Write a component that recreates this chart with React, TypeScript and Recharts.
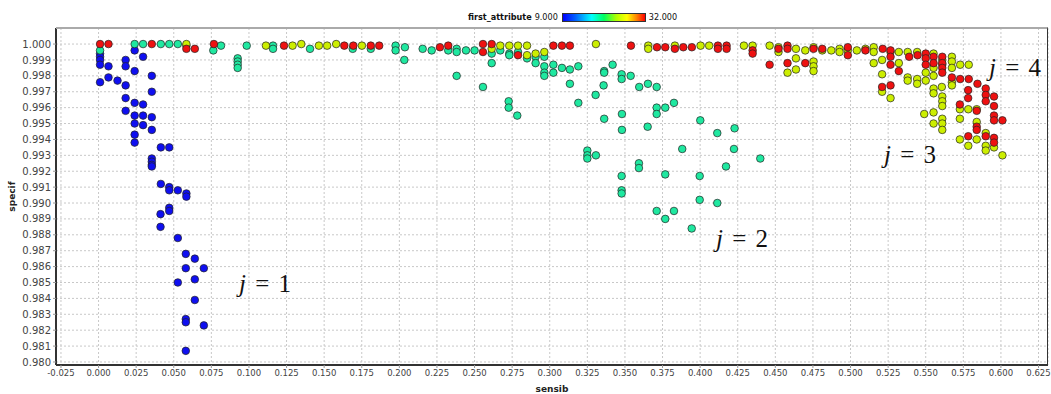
import React from "react";
import { ScatterChart, Scatter, XAxis, YAxis, CartesianGrid, Label } from "recharts";

// sensib / specif pairs, grouped by the colour of first_attribute
const attr9: [number, number][] = [
  [0.001, 0.9994], [0.001, 0.9992], [0.001, 0.999], [0.001, 0.9987], [0.001, 0.9976],
  [0.0066, 0.9986], [0.0066, 0.9979], [0.0126, 0.9977],
  [0.018, 0.999], [0.018, 0.9986], [0.018, 0.9974], [0.018, 0.9966], [0.018, 0.9958],
  [0.024, 0.9996], [0.024, 0.9983], [0.024, 0.9963], [0.024, 0.9955], [0.024, 0.995], [0.024, 0.9943], [0.024, 0.9938],
  [0.0296, 0.9992], [0.0296, 0.9962], [0.0296, 0.9955], [0.0296, 0.9949],
  [0.0354, 0.998], [0.0354, 0.997], [0.0354, 0.9954], [0.0354, 0.9946], [0.0354, 0.9928], [0.0354, 0.9926], [0.0354, 0.9924], [0.0354, 0.9923],
  [0.0414, 0.9935], [0.0414, 0.9912], [0.047, 0.9935], [0.047, 0.991], [0.047, 0.9908],
  [0.0527, 0.9908], [0.0584, 0.9906], [0.0584, 0.9904],
  [0.047, 0.9897], [0.047, 0.9895], [0.0412, 0.9893], [0.0412, 0.9885], [0.0527, 0.9878],
  [0.058, 0.9868], [0.064, 0.9865], [0.058, 0.9859], [0.07, 0.9859], [0.0527, 0.985], [0.064, 0.9852],
  [0.064, 0.9839], [0.058, 0.9827], [0.058, 0.9825], [0.07, 0.9823], [0.058, 0.9807],
];

const attr16: [number, number][] = [
  [0.001, 0.9996], [0.024, 1.0], [0.0296, 1.0], [0.0414, 1.0], [0.047, 1.0], [0.0527, 1.0], [0.0584, 0.9999],
  [0.0763, 0.9996], [0.0814, 0.9999], [0.0925, 0.9991], [0.0925, 0.9989], [0.0925, 0.9987], [0.0925, 0.9985],
  [0.0985, 0.9999], [0.116, 0.9999], [0.116, 0.9997], [0.1406, 0.9997], [0.169, 0.9997], [0.181, 0.9997],
  [0.1975, 0.9999], [0.1975, 0.9996], [0.2037, 0.9998], [0.2033, 0.999], [0.2155, 0.9997], [0.2215, 0.9996],
  [0.2325, 0.9996], [0.2381, 0.9997], [0.2381, 0.9995], [0.2381, 0.998], [0.2443, 0.9996], [0.25, 0.9996],
  [0.2556, 0.9973], [0.2614, 0.9994], [0.2614, 0.9988], [0.2671, 0.9996], [0.2731, 0.9994], [0.2731, 0.9993],
  [0.2727, 0.9964], [0.2727, 0.996], [0.2784, 0.9955], [0.2789, 0.9995], [0.2849, 0.9991], [0.2906, 0.9992],
  [0.2906, 0.9988], [0.2964, 0.9992], [0.2964, 0.9986], [0.2964, 0.9982], [0.2964, 0.998], [0.3024, 0.9987],
  [0.3024, 0.9982], [0.3081, 0.9985], [0.3134, 0.9984], [0.3134, 0.9975], [0.319, 0.9986], [0.319, 0.9963],
  [0.3305, 0.9968], [0.3362, 0.9983], [0.3362, 0.9982], [0.3358, 0.9974], [0.3362, 0.9953], [0.325, 0.9933],
  [0.325, 0.993], [0.325, 0.9928], [0.3307, 0.993], [0.3418, 0.9987], [0.3478, 0.9981], [0.3478, 0.9978],
  [0.3538, 0.998], [0.348, 0.9956], [0.348, 0.9946], [0.3478, 0.9917], [0.3478, 0.9908], [0.3478, 0.9906],
  [0.3595, 0.9973], [0.3653, 0.9975], [0.3711, 0.9973], [0.3711, 0.996], [0.3711, 0.9956], [0.3768, 0.996],
  [0.3826, 0.9963], [0.3651, 0.9948], [0.3593, 0.9925], [0.3593, 0.9922], [0.3768, 0.9918], [0.3881, 0.9934],
  [0.4001, 0.9952], [0.4114, 0.9944], [0.4229, 0.9947], [0.4225, 0.9934], [0.44, 0.9928], [0.4172, 0.9923],
  [0.3997, 0.9917], [0.3997, 0.9902], [0.4114, 0.99], [0.3711, 0.9895], [0.3826, 0.9895], [0.3768, 0.989],
  [0.3944, 0.9884],
];

const attr25: [number, number][] = [
  [0.0584, 1.0], [0.1113, 0.9999], [0.129, 0.9999], [0.1348, 1.0], [0.1465, 0.9999], [0.152, 0.9999],
  [0.158, 1.0], [0.1751, 0.9999], [0.2614, 0.9997], [0.2671, 0.9999], [0.2731, 0.9999], [0.2789, 0.9999],
  [0.2849, 0.9999], [0.2849, 0.9993], [0.2906, 0.9994], [0.2964, 0.9995], [0.3307, 1.0], [0.3655, 0.9999],
  [0.3655, 0.9997], [0.3832, 0.9999], [0.4003, 0.9999], [0.406, 0.9999], [0.4291, 0.9999], [0.4349, 0.9999],
  [0.4462, 0.9999], [0.4521, 0.9998], [0.4521, 0.9995], [0.4581, 0.9982], [0.4637, 0.9997], [0.4637, 0.9991],
  [0.4637, 0.9984], [0.4699, 0.9996], [0.4754, 0.9998], [0.4754, 0.9989], [0.4754, 0.9986], [0.4754, 0.9983],
  [0.4812, 0.9996], [0.4872, 0.9996], [0.4927, 0.9997], [0.4927, 0.9995], [0.4982, 0.9996], [0.5042, 0.9996],
  [0.5099, 0.9997], [0.5154, 0.9998], [0.5154, 0.9995], [0.5154, 0.9988], [0.521, 0.999], [0.521, 0.9981],
  [0.521, 0.997], [0.5266, 0.9995], [0.5266, 0.9966], [0.5321, 0.9995], [0.5321, 0.9988], [0.538, 0.9995],
  [0.538, 0.9979], [0.538, 0.9977], [0.5443, 0.9995], [0.5443, 0.9978], [0.5443, 0.9975], [0.55, 0.9982],
  [0.55, 0.9977], [0.549, 0.9956], [0.5552, 0.9994], [0.5552, 0.9985], [0.5552, 0.998], [0.5552, 0.9972],
  [0.5552, 0.9969], [0.5552, 0.9957], [0.5552, 0.995], [0.561, 0.999], [0.561, 0.9987], [0.561, 0.9967],
  [0.561, 0.9964], [0.561, 0.9961], [0.561, 0.9953], [0.561, 0.995], [0.561, 0.9946], [0.5607, 0.9973],
  [0.5674, 0.9992], [0.5674, 0.9989], [0.5674, 0.9985], [0.5674, 0.9976], [0.5674, 0.9974], [0.5729, 0.9987],
  [0.5786, 0.9987], [0.5727, 0.9959], [0.5727, 0.9953], [0.5727, 0.994], [0.5783, 0.9959], [0.5783, 0.9936],
  [0.5839, 0.9959], [0.5839, 0.9951], [0.5839, 0.994], [0.5899, 0.9944], [0.5899, 0.9936], [0.5899, 0.9933],
  [0.5954, 0.9935], [0.601, 0.993],
];

const attr32: [number, number][] = [
  [0.001, 1.0], [0.0066, 1.0], [0.0354, 1.0], [0.0584, 0.9997], [0.064, 0.9997], [0.0767, 1.0],
  [0.1233, 0.9999], [0.1634, 0.9999], [0.1694, 0.9999], [0.181, 0.9999], [0.1866, 0.9999], [0.227, 0.9998],
  [0.2325, 0.9999], [0.2556, 1.0], [0.2556, 0.9995], [0.2614, 1.0], [0.2789, 0.9993], [0.3024, 0.9999],
  [0.3081, 0.9999], [0.3134, 0.9999], [0.354, 0.9999], [0.3713, 0.9998], [0.3768, 0.9998], [0.3832, 0.9997],
  [0.3888, 0.9998], [0.3945, 0.9998], [0.4118, 0.9999], [0.4118, 0.9997], [0.4176, 0.9999], [0.4176, 0.9997],
  [0.4349, 0.9996], [0.4349, 0.9994], [0.4462, 0.9987], [0.4521, 0.9997], [0.4581, 0.9999], [0.4581, 0.9997],
  [0.4581, 0.9988], [0.4699, 0.9988], [0.4754, 0.9997], [0.4812, 0.9997], [0.4982, 0.9998], [0.4982, 0.9993],
  [0.5099, 0.9996], [0.5214, 0.9997], [0.521, 0.9973], [0.5266, 0.9996], [0.5266, 0.9992], [0.5266, 0.9987],
  [0.5266, 0.9974], [0.5321, 0.9983], [0.539, 0.9992], [0.5446, 0.9993], [0.55, 0.9994], [0.55, 0.9991],
  [0.55, 0.9987], [0.5552, 0.9992], [0.5552, 0.9988], [0.561, 0.9992], [0.561, 0.9988], [0.561, 0.9985],
  [0.561, 0.9982], [0.5674, 0.9979], [0.5729, 0.9978], [0.5786, 0.9978], [0.5844, 0.9975], [0.5782, 0.9971],
  [0.5782, 0.9966], [0.5899, 0.9972], [0.5899, 0.9968], [0.5899, 0.9964], [0.5954, 0.9967], [0.5954, 0.9961],
  [0.5954, 0.9955], [0.5954, 0.9952], [0.601, 0.9952], [0.5727, 0.9962], [0.5783, 0.9942], [0.5839, 0.9958],
  [0.5839, 0.9948], [0.5839, 0.9946], [0.5899, 0.9942], [0.5954, 0.9941], [0.5954, 0.9938],
];

const xTicks = [
  -0.025, 0, 0.025, 0.05, 0.075, 0.1, 0.125, 0.15, 0.175, 0.2, 0.225, 0.25, 0.275, 0.3,
  0.325, 0.35, 0.375, 0.4, 0.425, 0.45, 0.475, 0.5, 0.525, 0.55, 0.575, 0.6, 0.625,
];
const yTicks = [
  0.98, 0.981, 0.982, 0.983, 0.984, 0.985, 0.986, 0.987, 0.988, 0.989, 0.99,
  0.991, 0.992, 0.993, 0.994, 0.995, 0.996, 0.997, 0.998, 0.999, 1.0,
];

const series = [
  { name: "9", pts: attr9, color: "#0f0ff0" },
  { name: "16", pts: attr16, color: "#1fe8a0" },
  { name: "25", pts: attr25, color: "#ccee00" },
  { name: "32", pts: attr32, color: "#ee1111" },
];

const toRows = (pts: [number, number][]) => pts.map(([x, y]) => ({ x, y }));

const dot = (color: string) => (p: any) => (
  <circle cx={p.cx} cy={p.cy} r={3.8} fill={color} stroke="#222" strokeWidth={0.7} />
);

const yTickStyle = { fontSize: 10, fill: "#444", fontFamily: "DejaVu Sans" };
const xTickStyle = { fontSize: 8.5, fill: "#444", fontFamily: "DejaVu Sans" };

const jLabels = [
  { t: "1", left: 239, top: 271 },
  { t: "2", left: 716, top: 226 },
  { t: "3", left: 884, top: 142 },
  { t: "4", left: 989, top: 55 },
];

export default function App() {
  return (
    <div style={{ position: "absolute", left: 0, top: 0, width: 1051, height: 394, background: "#fff" }}>
      <ScatterChart width={1051} height={394} margin={{ top: 28, right: 3, bottom: 0, left: 4 }}>
        <CartesianGrid stroke="#c8c8c8" strokeDasharray="2 2" />
        <XAxis
          type="number"
          dataKey="x"
          domain={[-0.0283, 0.6313]}
          allowDataOverflow
          ticks={xTicks}
          interval={0}
          tickFormatter={(v: number) => v.toFixed(3)}
          tick={xTickStyle}
          tickSize={3}
          tickLine={{ stroke: "#999" }}
          axisLine={{ stroke: "#333", strokeWidth: 2 }}
          height={29}
        >
          <Label value="sensib" position="insideBottom" offset={2}
            style={{ fontSize: 9, fontWeight: "bold", fill: "#222", fontFamily: "DejaVu Sans" }} />
        </XAxis>
        <YAxis
          type="number"
          dataKey="y"
          domain={[0.97981, 1.00101]}
          allowDataOverflow
          ticks={yTicks}
          interval={0}
          tickFormatter={(v: number) => v.toFixed(3)}
          tick={yTickStyle}
          tickSize={3}
          tickMargin={2}
          tickLine={{ stroke: "#999" }}
          axisLine={{ stroke: "#333", strokeWidth: 2 }}
          width={52}
        >
          <Label value="specif" angle={-90} position="insideLeft" offset={8}
            style={{ fontSize: 9, fontWeight: "bold", fill: "#222", fontFamily: "DejaVu Sans", textAnchor: "middle" }} />
        </YAxis>
        {series.map((s) => (
          <Scatter key={s.name} name={s.name} data={toRows(s.pts)} shape={dot(s.color)} isAnimationActive={false} />
        ))}
      </ScatterChart>

      {/* plot frame */}
      <div style={{ position: "absolute", left: 56, top: 27, width: 991, height: 337,
        borderTop: "2px solid #aaa", borderRight: "1px solid #333", pointerEvents: "none" }} />

      {/* colour scale legend */}
      <div style={{ position: "absolute", left: 468, top: 12, fontFamily: "DejaVu Sans Condensed", fontSize: 9,
        display: "flex", alignItems: "center", whiteSpace: "nowrap", color: "#111" }}>
        <span style={{ fontWeight: "bold" }}>first_attribute</span>
        <span style={{ marginLeft: 3 }}>9.000</span>
        <span style={{ display: "inline-block", width: 82, height: 7, marginLeft: 4, border: "1px solid #333",
          background: "linear-gradient(to right, #0000ff 0%, #0060ff 15%, #00ffff 35%, #00ff60 50%, #b0ff00 65%, #ffff00 78%, #ff8000 90%, #ff0000 100%)" }} />
        <span style={{ marginLeft: 3 }}>32.000</span>
      </div>

      {jLabels.map((j) => (
        <div key={j.t} style={{ position: "absolute", left: j.left, top: j.top, fontFamily: "Liberation Serif",
          fontSize: 25, lineHeight: "25px", whiteSpace: "nowrap", color: "#111", wordSpacing: 3 }}>
          <i>j</i> = {j.t}
        </div>
      ))}
    </div>
  );
}
